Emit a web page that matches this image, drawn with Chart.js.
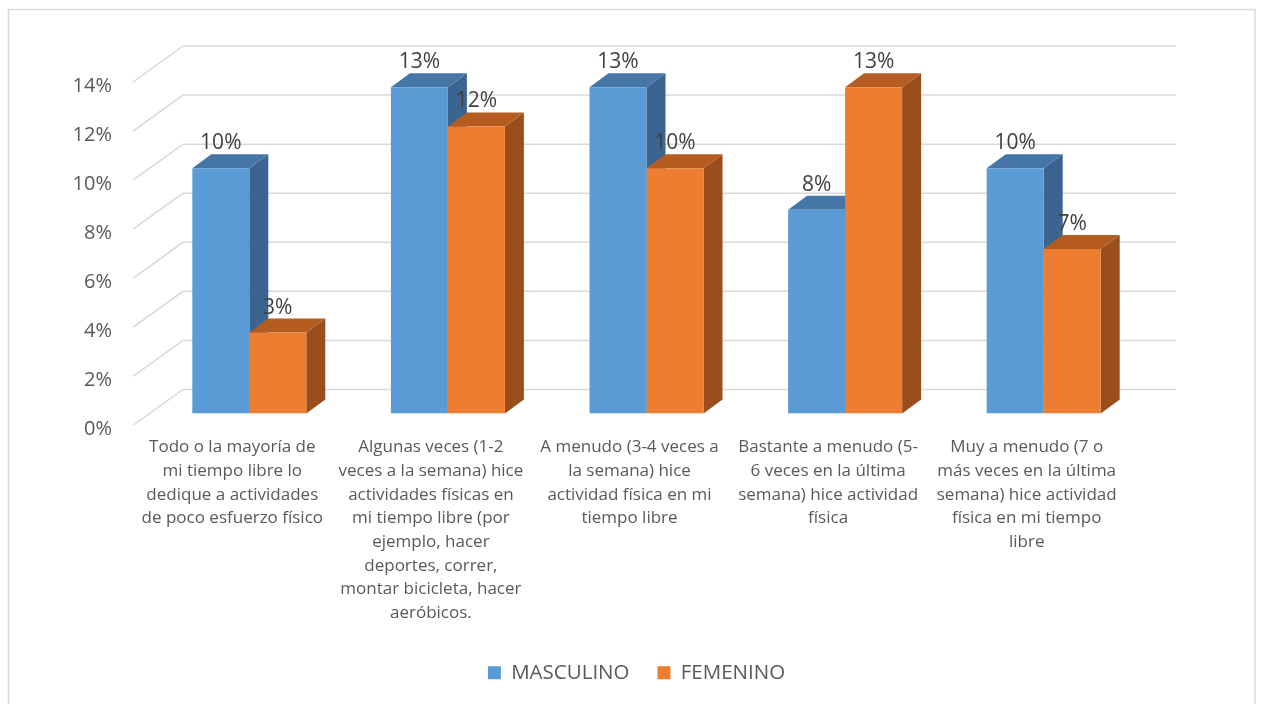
<!DOCTYPE html>
<html>
<head>
<meta charset="utf-8">
<script src="https://cdn.jsdelivr.net/npm/chart.js@4.4.1/dist/chart.umd.min.js"></script>
<style>
  html, body { margin: 0; padding: 0; background: #fff; }
  canvas { display: block; }
</style>
</head>
<body>
<canvas id="myChart" width="1262" height="704"></canvas>
<script>
// categories (already wrapped like the original)
var categories = [
    ["Todo o la mayoría de", "mi tiempo libre lo", "dedique a actividades", "de poco esfuerzo físico"],
    ["Algunas veces (1-2", "veces a la semana) hice", "actividades físicas en", "mi tiempo libre (por", "ejemplo, hacer", "deportes, correr,", "montar bicicleta, hacer", "aeróbicos."],
    ["A menudo (3-4 veces a", "la semana) hice", "actividad física en mi", "tiempo libre"],
    ["Bastante a menudo (5-", "6 veces en la última", "semana) hice actividad", "física"],
    ["Muy a menudo (7 o", "más veces en la última", "semana) hice actividad", "física en mi tiempo", "libre"]
];
var seriesNames = ["MASCULINO", "FEMENINO"];
var masculino = [10.0, 13.3, 13.3, 8.3, 10.0];
var femenino = [3.3, 11.7, 10.0, 13.3, 6.7];
var yTicks = [0, 2, 4, 6, 8, 10, 12, 14];

// colours: front, top, side
var blue = ["#5B9BD5", "#4676A5", "#3B6590"];
var orange = ["#ED7D31", "#B55C21", "#9A4E1C"];

// 3d offsets (px)
var frontOff = { x: -17, y: 12 };   // front edge of floor relative to bar plane
var backOff = { x: 33, y: -24 };    // back wall relative to bar plane
var barDepth = { x: 19, y: -14 };

var threeD = {
    id: "threeD",
    beforeDraw: function(chart) {
        var ctx = chart.ctx;
        ctx.save();
        ctx.fillStyle = "#fff";
        ctx.fillRect(0, 0, chart.width, chart.height);
        ctx.strokeStyle = "#d9d9d9";
        ctx.lineWidth = 1.5;
        ctx.strokeRect(8.5, 9.5, 1246.5, 710);
        ctx.restore();
    },
    beforeDatasetsDraw: function(chart) {
        var ctx = chart.ctx;
        var area = chart.chartArea;
        var ys = chart.scales.y;
        ctx.save();
        // gridlines: diagonal on the floor side + line on the back wall
        ctx.strokeStyle = "#d9d9d9";
        ctx.lineWidth = 1.5;
        yTicks.forEach(function(v) {
            var y = ys.getPixelForValue(v);
            ctx.beginPath();
            ctx.moveTo(area.left + frontOff.x, y + frontOff.y);
            ctx.lineTo(area.left + backOff.x, y + backOff.y);
            ctx.lineTo(area.right + backOff.x, y + backOff.y);
            ctx.stroke();
        });
        // sides and tops of bars, blue first so orange fronts cover them
        var cols = [blue, orange];
        [0, 1].forEach(function(di) {
            var meta = chart.getDatasetMeta(di);
            meta.data.forEach(function(bar) {
                var p = bar.getProps(["x", "y", "base", "width"], true);
                var l = p.x - p.width / 2, r = p.x + p.width / 2;
                var t = p.y, b = p.base;
                // side
                ctx.fillStyle = cols[di][2];
                ctx.beginPath();
                ctx.moveTo(r, t);
                ctx.lineTo(r + barDepth.x, t + barDepth.y);
                ctx.lineTo(r + barDepth.x, b + barDepth.y);
                ctx.lineTo(r, b);
                ctx.closePath();
                ctx.fill();
                // top
                ctx.fillStyle = cols[di][1];
                ctx.beginPath();
                ctx.moveTo(l, t);
                ctx.lineTo(l + barDepth.x, t + barDepth.y);
                ctx.lineTo(r + barDepth.x, t + barDepth.y);
                ctx.lineTo(r, t);
                ctx.closePath();
                ctx.fill();
            });
        });
        ctx.restore();
    },
    afterDatasetsDraw: function(chart) {
        var ctx = chart.ctx;
        ctx.save();
        ctx.fillStyle = "#404040";
        ctx.font = "21px 'Open Sans'";
        ctx.textAlign = "center";
        ctx.textBaseline = "middle";
        [0, 1].forEach(function(di) {
            var meta = chart.getDatasetMeta(di);
            var vals = chart.data.datasets[di].data;
            meta.data.forEach(function(bar, i) {
                ctx.fillText(Math.round(vals[i]) + "%", bar.x, bar.y - 25);
            });
        });
        ctx.restore();
    }
};

var ctx = document.getElementById("myChart");
var myChart = new Chart(ctx, {
    type: "bar",
    data: {
        labels: categories,
        datasets: [{
            label: seriesNames[0],
            data: masculino,
            backgroundColor: blue[0]
        }, {
            label: seriesNames[1],
            data: femenino,
            backgroundColor: orange[0]
        }]
    },
    options: {
        responsive: false,
        devicePixelRatio: 1,
        animation: false,
        layout: { padding: { top: 70, right: 0, left: 11, bottom: 11 } },
        datasets: { bar: { categoryPercentage: 0.574, barPercentage: 1 } },
        plugins: {
            tooltip: { enabled: false },
            legend: {
                position: "bottom",
                labels: {
                    color: "#595959",
                    font: { family: "'Open Sans'", size: 20.5 },
                    boxWidth: 13,
                    boxHeight: 13,
                    padding: 28
                }
            }
        },
        scales: {
            x: {
                grid: { display: false, drawTicks: false },
                border: { display: false },
                ticks: {
                    color: "#595959",
                    font: { family: "'Open Sans'", size: 17, lineHeight: 1.394 },
                    maxRotation: 0,
                    autoSkip: false,
                    padding: 22,
                    labelOffset: -17
                },
                afterFit: function(scale) { scale.height = 221; }
            },
            y: {
                min: 0,
                max: 14,
                grid: { display: false, drawTicks: false },
                border: { display: false },
                ticks: {
                    stepSize: 2,
                    color: "#595959",
                    font: { family: "'Open Sans'", size: 20 },
                    padding: 38,
                    labelOffset: 16,
                    callback: function(v) { return v + "%"; }
                },
                afterFit: function(scale) { scale.width = 139; }
            },
            // empty right axis, only keeps room for the 3d back wall
            yRight: {
                position: "right",
                min: 0,
                max: 14,
                grid: { display: false, drawTicks: false },
                border: { display: false },
                ticks: { display: false },
                afterFit: function(scale) { scale.width = 119; }
            }
        }
    },
    plugins: [threeD]
});
</script>
</body>
</html>
